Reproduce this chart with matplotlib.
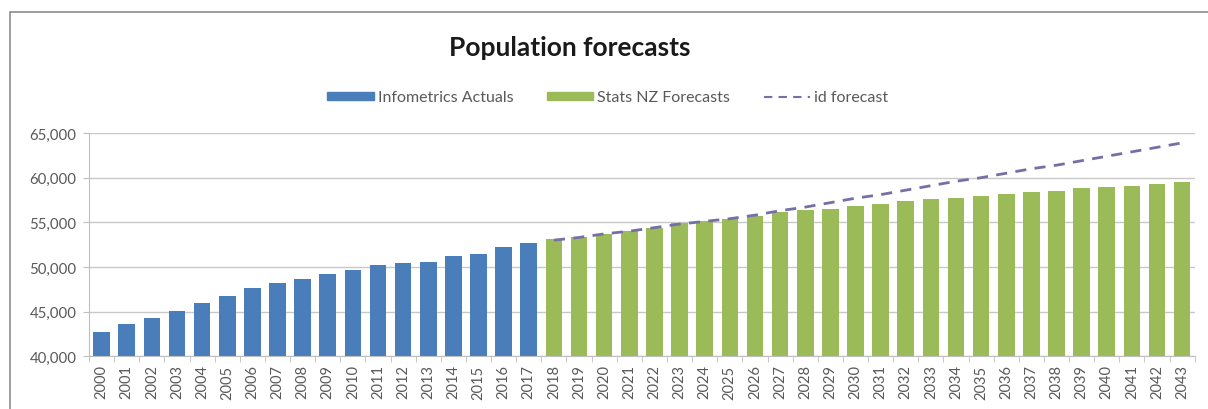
import matplotlib.pyplot as plt
from matplotlib.patches import Patch, Rectangle
from matplotlib.lines import Line2D
from matplotlib.ticker import FuncFormatter

years = list(range(2000, 2044))
actuals = [42700, 43600, 44300, 45100, 45900, 46700, 47600, 48200, 48600, 49200,
           49700, 50200, 50400, 50600, 51200, 51500, 52200, 52700]
statsnz = [53100, 53400, 53700, 54000, 54400, 54900, 55100, 55400, 55700, 56100,
           56400, 56500, 56800, 57000, 57400, 57600, 57700, 58000, 58200, 58400,
           58500, 58800, 58900, 59100, 59300, 59500]
id_forecast = [53000, 53300, 53700, 54000, 54400, 54800, 55100, 55400, 55800, 56300,
               56700, 57200, 57700, 58100, 58600, 59100, 59600, 60000, 60500, 61000,
               61400, 61900, 62400, 62900, 63400, 63900]

plt.rcParams['font.family'] = ['Lato', 'DejaVu Sans']
blue = '#4a7ebb'
green = '#9bbb59'
purple = '#7470a6'
grey = '#595959'

fig = plt.figure(figsize=(12.08, 4.10), dpi=100)
ax = fig.add_axes([0.0737, 0.129, 0.9153, 0.544])

n_act = len(actuals)
x_act = list(range(n_act))
x_fc = list(range(n_act, len(years)))
ax.bar(x_act, actuals, width=0.66, color=blue, zorder=2)
ax.bar(x_fc, statsnz, width=0.66, color=green, zorder=2)
ax.plot(x_fc, id_forecast, color=purple, lw=2, dashes=(4, 3), zorder=3)

ax.set_xlim(-0.5, len(years) - 0.5)
ax.set_ylim(40000, 65000)
ax.set_yticks(range(40000, 65001, 5000))
ax.yaxis.set_major_formatter(FuncFormatter(lambda v, p: f'{int(v):,}'))
ax.grid(axis='y', color='#c8c8c8', lw=1, zorder=0)

ax.set_xticks(range(len(years)))
ax.set_xticklabels([str(y) for y in years], rotation=90)
ax.set_xticks([i + 0.5 for i in range(-1, len(years))], minor=True)
ax.tick_params(axis='x', which='major', length=0, pad=6, labelsize=10.5, labelcolor=grey)
ax.tick_params(axis='x', which='minor', length=4, color='#bfbfbf')
ax.tick_params(axis='y', length=4, color='#bfbfbf', labelsize=10.8, labelcolor=grey, pad=5)

for s in ['top', 'right']:
    ax.spines[s].set_visible(False)
for s in ['left', 'bottom']:
    ax.spines[s].set_color('#bfbfbf')

fig.text(0.472, 0.883, 'Population forecasts', ha='center', va='center',
         fontsize=19, fontweight='bold', color='#1a1a1a')

handles = [Patch(color=blue, label='Infometrics Actuals'),
           Patch(color=green, label='Stats NZ Forecasts'),
           Line2D([], [], color=purple, lw=1.5, dashes=(4, 3), label='id forecast')]
fig.legend(handles=handles, loc='center', bbox_to_anchor=(0.503, 0.76), ncol=3,
           frameon=False, fontsize=11.5, labelcolor=grey, handlelength=2.9,
           handleheight=0.4, columnspacing=2.1, handletextpad=0.25)

fig.patches.append(Rectangle((10 / 1208, -0.1), 1.2, 1.1 - 13 / 410, transform=fig.transFigure,
                             fill=False, edgecolor='#8c8c8c', lw=1.2))

fig.savefig('out.png', dpi=100)
